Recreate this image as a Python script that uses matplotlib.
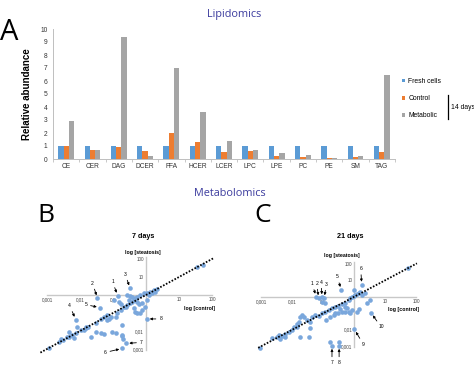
import numpy as np
import matplotlib
matplotlib.use("Agg")
import matplotlib.pyplot as plt
from matplotlib.lines import Line2D
from matplotlib.ticker import FixedLocator, FixedFormatter

# ---------------- Data ----------------
lipids = ["CE", "CER", "DAG", "DCER", "FFA", "HCER", "LCER", "LPC", "LPE", "PC", "PE", "SM", "TAG"]
fresh = [1, 1, 1, 1, 1, 1, 1, 1, 1, 1, 1, 1, 1]
control = [1.0, 0.7, 0.9, 0.65, 2.0, 1.3, 0.55, 0.65, 0.2, 0.12, 0.05, 0.12, 0.55]
metabolic = [2.95, 0.7, 9.4, 0.25, 7.0, 3.6, 1.38, 0.7, 0.47, 0.27, 0.08, 0.25, 6.45]
series_names = ["Fresh cells", "Control", "Metabolic"]

# Panel B (7 days): log10 values
b_ctrl_log = [-2.93, -2.63, -2.53, -2.33, -2.23, -2.13, -1.98, -1.83, -1.76, -1.52, -1.37, -1.27, -1.19,
              -1.12, -1.07, -0.92, -0.87, -0.77, -0.67, -0.57, -0.47, -0.42, -0.37, -0.32, -0.27, -0.17,
              -0.07, 0.03, 0.13, 0.23, 0.33, -0.22, -0.12, -0.37, -0.32, -0.27, -0.17, -0.12, -0.02, -0.57,
              -0.47, -0.42, -0.82, -0.77, -0.97, -2.08, -1.83, -1.68, -1.52, -1.37, -1.27, -1.02, -0.92,
              -0.72, -0.69, -2.18, -2.33, 1.54, 1.74, 0.08, 0.18, 0.28, -1.17, -2.38, -2.58, -0.62, -0.52,
              0.03, -0.27, -1.88, -0.74, -0.74]
b_steat_log = [-2.96, -2.59, -2.50, -2.31, -2.22, -2.09, -1.94, -1.76, -1.76, -1.57, -1.35, -1.24, -1.39,
               -1.35, -1.24, -1.20, -1.02, -0.83, -0.65, -0.56, -0.46, -0.37, -0.28, -0.19, -0.09, 0.0,
               0.09, 0.13, 0.19, 0.28, 0.35, -0.50, -0.43, -0.74, -0.92, -0.98, -0.98, -0.83, -0.65, 0.0,
               -0.06, -0.09, -0.37, -0.50, -0.28, -1.76, -1.85, -2.31, -2.04, -2.13, -2.17, -2.04, -2.13,
               -2.22, -2.46, -2.41, -2.04, 1.54, 1.67, 0.0, 0.09, 0.19, -1.11, -2.31, -2.46, -0.65, -0.28,
               -0.28, -0.37, -1.94, -1.67, -2.30]
b_ann_labels = ["1", "2", "3", "4", "5", "6", "7", "8"]
b_ann_ctrl_log = [-0.86, -1.47, -0.48, -2.13, -1.40, -0.72, -0.60, 0.02]
b_ann_steat_log = [-0.04, -0.18, 0.37, -1.37, -0.70, -2.97, -2.69, -1.33]

# Panel C (21 days): log10 values
c_ctrl_log = [-3.03, -2.50, -2.44, -2.33, -2.23, -2.12, -2.01, -1.93, -1.85, -1.80, -1.74, -1.69, -1.63,
              -1.53, -1.42, -1.37, -1.26, -1.15, -1.04, -0.94, -0.83, -0.72, -0.61, -0.51, -0.40, -0.29,
              -0.18, -0.13, -0.08, -0.02, 0.03, 0.09, 0.14, 0.19, -0.61, -0.51, -0.40, -0.29, -0.18, -0.13,
              -0.24, -0.08, -0.79, -0.49, 1.73, 0.09, 0.14, 0.41, 0.52, 0.35, 0.25, -1.42, -1.74, -1.45,
              -1.85, -0.92, -0.77, -0.67, -1.04, -0.94, -2.23, -2.66, -2.39, -0.02, -0.29, -0.45]
c_steat_log = [-3.13, -2.42, -2.32, -2.38, -2.26, -2.12, -2.02, -1.82, -1.65, -1.51, -1.21, -1.11, -1.25,
               -1.41, -1.51, -1.21, -1.11, -1.17, -1.01, -0.91, -0.81, -0.70, -0.60, -0.56, -0.44, -0.36,
               -0.20, -0.10, 0.0, 0.04, 0.10, 0.16, 0.20, 0.30, -1.01, -0.97, -0.91, -0.91, -0.91, -1.01,
               -0.70, -0.81, -2.73, -2.73, 1.72, -0.91, -0.77, -0.40, -0.20, 0.20, 0.10, -1.92, -2.42, -2.42,
               -1.82, -1.41, -1.25, -1.11, -0.30, -0.40, -2.42, -2.52, -2.58, 0.41, -0.60, -0.77]
c_ann_labels = ["1", "2", "4", "3", "5", "6", "10", "9", "7", "8"]
c_ann_ctrl_log = [-1.23, -1.15, -1.04, -0.97, -0.42, 0.24, 0.54, 0.0, -0.72, -0.49]
c_ann_steat_log = [0.0, -0.10, -0.04, -0.10, 0.41, 0.72, -0.98, -1.97, -2.97, -2.97]

x_tick_vals = [0.001, 0.01, 0.1, 10, 100]
x_tick_text = ["0,001", "0,01", "0,1", "10", "100"]
y_tick_vals = [100, 10, 0.01, 0.001]
y_tick_text = ["100", "10", "0,01", "0,001"]

# ---------------- Figure ----------------
W, H = 474, 365
fig = plt.figure(figsize=(W / 100, H / 100), dpi=100)
plt.rcParams['font.family'] = ['Liberation Sans', 'DejaVu Sans']

def fx(px):
    return px / W

def fy(py):
    return 1 - py / H

title_col = '#3c3c9e'
fig.text(fx(234), fy(15), "Lipidomics", color=title_col, fontsize=7.8, family='Open Sans',
         ha='center', va='center')
fig.text(fx(230), fy(193), "Metabolomics", color=title_col, fontsize=7.8, family='Open Sans',
         ha='center', va='center')
fig.text(fx(9), fy(32), "A", fontsize=21, family='Open Sans', ha='center', va='center')
fig.text(fx(45.5), fy(215), "B", fontsize=19, family='Open Sans', ha='center', va='center')
fig.text(fx(262.5), fy(215), "C", fontsize=19, family='Open Sans', ha='center', va='center')

# ---------------- Panel A ----------------
axA = fig.add_axes([fx(53), fy(159), fx(395) - fx(53), (159 - 29) / H])
cols = ['#5b9bd5', '#ed7d31', '#a5a5a5']
xpos = np.arange(len(lipids))
bw = 0.2
for i, (vals, c, nm) in enumerate(zip([fresh, control, metabolic], cols, series_names)):
    axA.bar(xpos + (i - 1) * bw, vals, width=bw, color=c, label=nm, linewidth=0)
axA.set_xlim(-0.5, len(lipids) - 0.5)
axA.set_ylim(0, 10)
axA.set_yticks(range(0, 11))
axA.set_xticks(xpos)
axA.set_xticklabels(lipids)
axA.xaxis.set_minor_locator(FixedLocator(np.arange(-0.5, len(lipids), 1.0)))
axA.tick_params(axis='x', which='major', length=0, labelsize=4.8, pad=3, colors='#333333')
axA.tick_params(axis='x', which='minor', length=2.5, color='#bfbfbf', width=0.6)
axA.tick_params(axis='y', length=0, labelsize=4.8, pad=4, colors='#333333')
for s in ['top', 'right']:
    axA.spines[s].set_visible(False)
for s in ['left', 'bottom']:
    axA.spines[s].set_color('#bfbfbf')
    axA.spines[s].set_linewidth(0.7)
axA.set_ylabel("Relative abundance", fontsize=7, fontweight='bold', labelpad=6)

leg = axA.legend(loc='upper left', bbox_to_anchor=(fx(402), fy(78)), bbox_transform=fig.transFigure,
                 frameon=False, fontsize=4.9, handlelength=0.45, handleheight=0.45,
                 handletextpad=0.5, labelspacing=1.5, borderpad=0, borderaxespad=0)
fig.add_artist(Line2D([fx(448), fx(448)], [fy(95), fy(119)], color='black', lw=0.9))
fig.text(fx(451), fy(107.5), "14 days", fontsize=4.9, ha='left', va='center')

# ---------------- Scatter panels ----------------
def scatter_panel(rect, cx, cy, ax_lbl_x, ax_lbl_y, ann_x, ann_y, ann_labels, offsets,
                  title, title_xy, steat_xy, ctrl_xy, line_range):
    ax = fig.add_axes(rect)
    ax.set_xscale('log')
    ax.set_yscale('log')
    ax.set_xlim(10 ** -3.3, 10 ** 2.3)
    ax.set_ylim(10 ** -3.4, 10 ** 2.6)
    ax.patch.set_alpha(0)
    for s in ['top', 'right']:
        ax.spines[s].set_visible(False)
    ax.spines['left'].set_position(('data', 1))
    ax.spines['bottom'].set_position(('data', 1))
    ax.spines['left'].set_bounds(10 ** -3.05, 10 ** 2.1)
    ax.spines['bottom'].set_bounds(10 ** -3, 10 ** 2)
    for s in ['left', 'bottom']:
        ax.spines[s].set_color('#c8c8c8')
        ax.spines[s].set_linewidth(1.0)
        ax.spines[s].set_zorder(0)
    ax.xaxis.set_major_locator(FixedLocator(x_tick_vals))
    ax.xaxis.set_major_formatter(FixedFormatter(x_tick_text))
    ax.yaxis.set_major_locator(FixedLocator(y_tick_vals))
    ax.yaxis.set_major_formatter(FixedFormatter(y_tick_text))
    ax.xaxis.set_minor_locator(FixedLocator([]))
    ax.yaxis.set_minor_locator(FixedLocator([]))
    ax.tick_params(length=0, labelsize=3.3, pad=1.5, colors='#444444')
    xs = 10 ** np.array(cx)
    ys = 10 ** np.array(cy)
    ax.scatter(xs, ys, s=11, color='#7aa7dc', linewidths=0, zorder=2)
    axx = 10 ** np.array(ann_x)
    axy = 10 ** np.array(ann_y)
    ax.scatter(axx, axy, s=11, color='#7aa7dc', linewidths=0, zorder=2)
    lr = 10 ** np.array(line_range)
    ax.plot(lr, lr, color='black', lw=1.3, linestyle=(0, (0.9, 0.9)), zorder=3)
    for lab, x, y, off in zip(ann_labels, axx, axy, offsets):
        ax.annotate(lab, xy=(x, y), xytext=off, textcoords='offset pixels', fontsize=3.6,
                    ha='center', va='center', zorder=5,
                    arrowprops=dict(arrowstyle='-|>', color='black', lw=0.6, mutation_scale=3.5,
                                    shrinkA=0.5, shrinkB=2.2))
    fig.text(fx(title_xy[0]), fy(title_xy[1]), title, fontsize=5.2, fontweight='bold',
             ha='center', va='center')
    fig.text(fx(steat_xy[0]), fy(steat_xy[1]), ax_lbl_y, fontsize=3.8, fontweight='bold',
             ha='center', va='center')
    fig.text(fx(ctrl_xy[0]), fy(ctrl_xy[1]), ax_lbl_x, fontsize=3.8, fontweight='bold',
             ha='center', va='center')
    return ax

b_offsets = [(-5, 14), (-5, 15), (-5, 14), (-6, 14), (-14, 3), (-17, -4), (15, 1), (14, 0)]
c_offsets = [(-4, 13), (-2, 15), (-1, 15), (2, 14), (-4, 13), (-1, 16), (10, -14), (9, -15), (0, -17), (0, -17)]

scatter_panel([fx(37.1), fy(356.2), (221.9 - 37.1) / W, (356.2 - 248.2) / H],
              b_ctrl_log, b_steat_log, "log [control]", "log [steatosis]",
              b_ann_ctrl_log, b_ann_steat_log, b_ann_labels, b_offsets,
              "7 days", (143.3, 236), (143.3, 252.7), (200, 308.3), [-3.2, 2.05])

scatter_panel([fx(252), fy(352.8), (425.6 - 252) / W, (352.8 - 253.8) / H],
              c_ctrl_log, c_steat_log, "log [control]", "log [steatosis]",
              c_ann_ctrl_log, c_ann_steat_log, c_ann_labels, c_offsets,
              "21 days", (350.7, 236.7), (342.3, 255.3), (404, 310), [-3.1, 2.02])

fig.savefig("out.png", dpi=100)
